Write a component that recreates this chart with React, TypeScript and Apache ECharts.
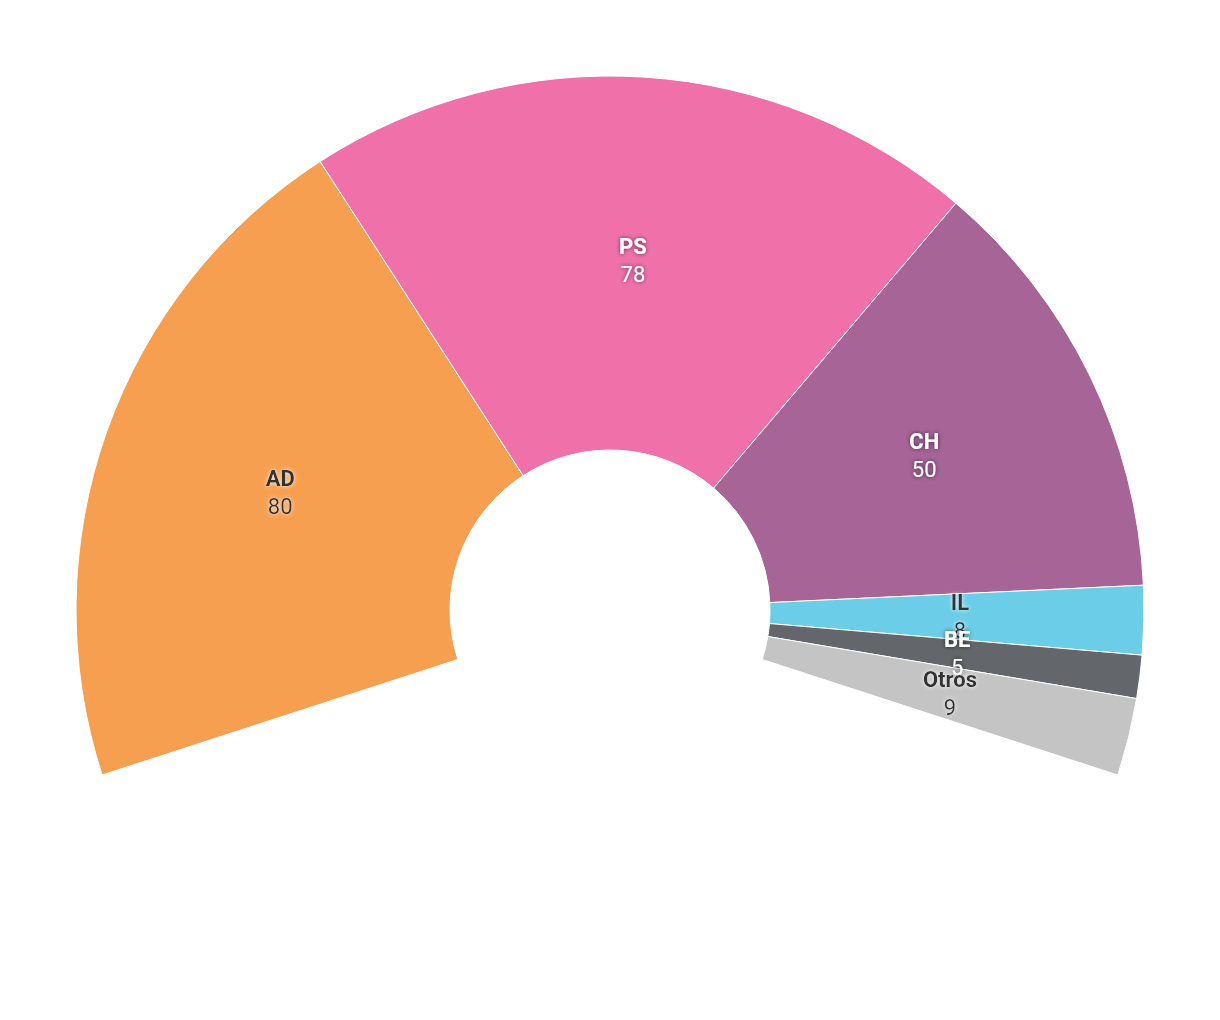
import React, { useEffect, useRef } from "react";
import * as echarts from "echarts";

const names = ["AD", "PS", "CH", "IL", "BE", "Otros"];
const values = [80, 78, 50, 8, 5, 9];
const colors = ["#F79F51", "#F071AA", "#A66497", "#6BCDE8", "#63666A", "#C4C4C4"];
const darkLabel = [true, false, false, true, false, true];

export default function App() {
  const ref = useRef<HTMLDivElement>(null);
  useEffect(() => {
    const chart = echarts.init(ref.current!, null, { renderer: "svg" });
    const data = names.map((n, i) => ({
      name: n,
      value: values[i],
      itemStyle: { color: colors[i] },
      label: darkLabel[i]
        ? { color: "#333333", textShadowColor: "rgba(255,255,255,0.9)" }
        : { color: "#ffffff", textShadowColor: "rgba(0,0,0,0.6)" },
    }));
    chart.setOption({
      animation: false,
      series: [
        {
          type: "pie",
          center: [610, 610],
          radius: [160, 534],
          startAngle: 198,
          endAngle: -18,
          clockwise: true,
          avoidLabelOverlap: false,
          labelLayout: { hideOverlap: false },
          itemStyle: { borderColor: "#ffffff", borderWidth: 1 },
          label: {
            show: true,
            position: "inside",
            fontFamily: "Roboto",
            textShadowBlur: 4,
            formatter: "{b|{b}}\n{c|{c}}",
            rich: {
              b: { fontSize: 22, fontWeight: "bold", lineHeight: 28, fontFamily: "Roboto" },
              c: { fontSize: 22, fontWeight: "normal", lineHeight: 28, fontFamily: "Roboto" },
            },
          },
          labelLine: { show: false },
          data,
        },
      ],
    });
    return () => chart.dispose();
  }, []);
  return (
    <div
      ref={ref}
      style={{ position: "absolute", left: 0, top: 0, width: 1220, height: 1020 }}
    />
  );
}
